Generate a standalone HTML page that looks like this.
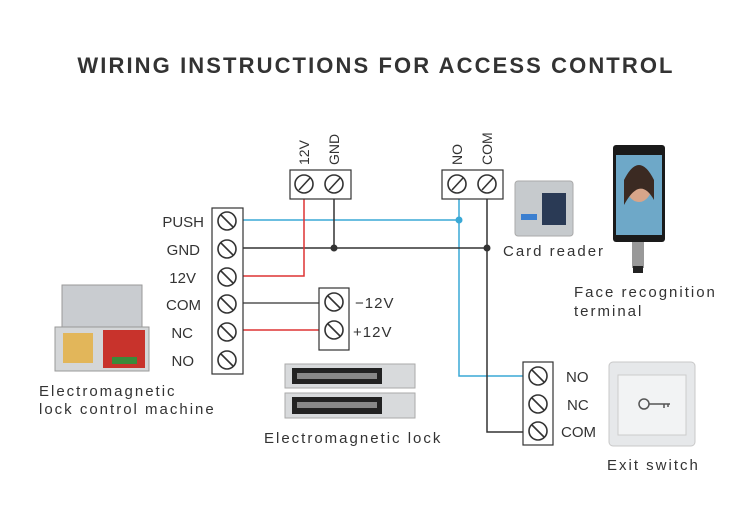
<!DOCTYPE html>
<html><head><meta charset="utf-8"><style>
body{margin:0;background:#fff;width:750px;height:510px;overflow:hidden;font-family:"Liberation Sans",sans-serif}
</style></head><body>
<svg width="750" height="510" viewBox="0 0 750 510" xmlns="http://www.w3.org/2000/svg" font-family="Liberation Sans, sans-serif">
<defs>
<g id="s"><circle r="9" fill="#fff" stroke="#333" stroke-width="1.6"/><line x1="-6" y1="-6" x2="6" y2="6" stroke="#333" stroke-width="1.6"/></g>
<g id="t"><circle r="9" fill="#fff" stroke="#333" stroke-width="1.6"/><line x1="-5" y1="6" x2="6" y2="-6" stroke="#333" stroke-width="1.6"/></g>
</defs>
<text x="376" y="73" text-anchor="middle" font-size="22" font-weight="bold" fill="#333" letter-spacing="2.1">WIRING INSTRUCTIONS FOR ACCESS CONTROL</text>
<!-- wires -->
<g fill="none" stroke-width="1.5">
<path d="M243 220H459" stroke="#3aa9d6"/>
<path d="M459 199V376H523" stroke="#3aa9d6"/>
<path d="M243 248H487M334 199V248M487 199V432H523" stroke="#333"/>
<path d="M243 276H304V199M243 330H320" stroke="#d33"/>
<path d="M243 303H320" stroke="#555"/>
</g>
<circle cx="459" cy="220" r="3.5" fill="#3aa9d6"/>
<circle cx="334" cy="248" r="3.5" fill="#333"/>
<circle cx="487" cy="248" r="3.5" fill="#333"/>
<!-- main block -->
<rect x="212" y="208" width="31" height="166" fill="#fff" stroke="#333" stroke-width="1.2"/>
<use href="#s" x="227" y="221"/><use href="#s" x="227" y="249"/><use href="#s" x="227" y="277"/>
<use href="#s" x="227" y="304"/><use href="#s" x="227" y="332"/><use href="#s" x="227" y="360"/>
<g font-size="15" fill="#333" text-anchor="end">
<text x="204" y="227">PUSH</text><text x="200" y="255">GND</text><text x="196" y="283">12V</text>
<text x="201" y="310">COM</text><text x="193" y="338">NC</text><text x="194" y="366">NO</text></g>
<!-- top blocks -->
<rect x="290" y="170" width="61" height="29" fill="#fff" stroke="#333" stroke-width="1.2"/>
<use href="#t" x="304" y="184"/><use href="#t" x="334" y="184"/>
<rect x="442" y="170" width="61" height="29" fill="#fff" stroke="#333" stroke-width="1.2"/>
<use href="#t" x="457" y="184"/><use href="#t" x="487" y="184"/>
<g font-size="14" fill="#333">
<text transform="translate(309,165) rotate(-90)">12V</text>
<text transform="translate(339,165) rotate(-90)">GND</text>
<text transform="translate(462,165) rotate(-90)">NO</text>
<text transform="translate(492,165) rotate(-90)">COM</text></g>
<!-- lock block -->
<rect x="319" y="288" width="30" height="62" fill="#fff" stroke="#333" stroke-width="1.2"/>
<use href="#s" x="334" y="302"/><use href="#s" x="334" y="330"/>
<text x="355" y="308" font-size="15" fill="#333" letter-spacing="1">−12V</text>
<text x="353" y="337" font-size="15" fill="#333" letter-spacing="1">+12V</text>
<!-- switch block -->
<rect x="523" y="362" width="30" height="83" fill="#fff" stroke="#333" stroke-width="1.2"/>
<use href="#s" x="538" y="376"/><use href="#s" x="538" y="404"/><use href="#s" x="538" y="431"/>
<g font-size="15" fill="#333"><text x="566" y="382">NO</text><text x="567" y="410">NC</text><text x="561" y="437">COM</text></g>
<!-- control machine -->
<rect x="62" y="285" width="80" height="42" fill="#c9ccd0" stroke="#999"/>
<rect x="55" y="327" width="94" height="44" fill="#d4d6d8" stroke="#999"/>
<rect x="63" y="333" width="30" height="30" fill="#e2b65a"/>
<rect x="103" y="330" width="42" height="38" fill="#c8332c"/>
<rect x="112" y="357" width="25" height="7" fill="#3a8a3a"/>
<!-- lock -->
<rect x="285" y="364" width="130" height="24" fill="#d8dadc" stroke="#aaa"/>
<rect x="292" y="368" width="90" height="16" fill="#222"/><rect x="297" y="373" width="80" height="6" fill="#888"/>
<rect x="285" y="393" width="130" height="25" fill="#d8dadc" stroke="#aaa"/>
<rect x="292" y="397" width="90" height="17" fill="#222"/><rect x="297" y="402" width="80" height="6" fill="#888"/>
<!-- card reader -->
<rect x="515" y="181" width="58" height="55" rx="3" fill="#c6cacd" stroke="#aaa"/>
<rect x="542" y="193" width="24" height="32" fill="#2a3a55"/>
<rect x="521" y="214" width="16" height="6" fill="#3b7fd0"/>
<!-- face terminal -->
<rect x="613" y="145" width="52" height="97" rx="3" fill="#1a1a1a"/>
<rect x="616" y="155" width="46" height="80" fill="#6ea8c8"/>
<ellipse cx="639" cy="185" rx="13" ry="17" fill="#d7a58a"/>
<path d="M624 180Q639 150 654 180L654 200Q640 175 624 205Z" fill="#3b2a22"/>
<rect x="632" y="242" width="12" height="26" fill="#999"/><rect x="633" y="266" width="10" height="7" fill="#222"/>
<!-- exit switch -->
<rect x="609" y="362" width="86" height="84" rx="4" fill="#e6e8ea" stroke="#c8c8c8"/>
<rect x="618" y="375" width="68" height="60" fill="#f2f3f4" stroke="#ccc"/>
<circle cx="644" cy="404" r="5" fill="none" stroke="#555" stroke-width="1.5"/>
<path d="M649 404H670M664 404V408M668 404V407" stroke="#555" stroke-width="1.5"/>
<!-- captions -->
<g font-size="15" fill="#333" letter-spacing="2">
<text x="503" y="256">Card reader</text>
<text x="574" y="297">Face recognition</text>
<text x="574" y="316">terminal</text>
<text x="39" y="396">Electromagnetic</text>
<text x="39" y="414">lock control machine</text>
<text x="264" y="443">Electromagnetic lock</text>
<text x="607" y="470">Exit switch</text></g>
</svg>
</body></html>
